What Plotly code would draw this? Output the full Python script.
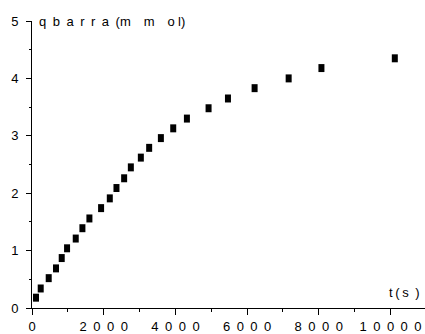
import plotly.graph_objects as go

t_s = [112, 243, 466, 670, 829, 978, 1220, 1406, 1601, 1927, 2170, 2356, 2570, 2757,
       3036, 3268, 3595, 3939, 4321, 4925, 5466, 6209, 7159, 8073, 10120]
q_barra = [0.18, 0.34, 0.52, 0.69, 0.87, 1.04, 1.21, 1.39, 1.56, 1.74, 1.91, 2.09, 2.26, 2.45,
           2.62, 2.79, 2.96, 3.13, 3.30, 3.48, 3.65, 3.83, 4.00, 4.18, 4.35]

x_tickvals = [0, 2000, 4000, 6000, 8000, 10000]
x_ticktext = ["0", "2\u20020\u20020\u20020", "4\u20020\u20020\u20020", "6\u20020\u20020\u20020",
              "8\u20020\u20020\u20020", "1\u20020\u20020\u20020\u20020"]
y_tickvals = [0, 1, 2, 3, 4, 5]
y_ticktext = ["0", "1", "2", "3", "4", "5"]

y_title = "q\u2002b\u2002a\u2002r\u2002r\u2002a\u2002(m\u2003m\u2003o\u2005l)"
x_title = "t\u2009(\u2009s\u2002)"

FONT = "Liberation Sans, Arial, sans-serif"

fig = go.Figure()
fig.add_trace(go.Scatter(
    x=t_s, y=q_barra, mode="markers",
    marker=dict(symbol="line-ns", size=5.7, color="black",
                line=dict(color="black", width=6)),
    showlegend=False, cliponaxis=False,
))

fig.update_layout(
    width=425, height=334,
    margin=dict(l=32, r=0, t=21, b=26),
    paper_bgcolor="white", plot_bgcolor="white",
    font=dict(family=FONT, size=13, color="black"),
    xaxis=dict(
        range=[0, 10962], showgrid=False, zeroline=False,
        showline=True, linecolor="black", linewidth=1,
        ticks="outside", ticklen=6, tickwidth=1, tickcolor="black",
        tickmode="array", tickvals=x_tickvals, ticktext=x_ticktext,
        minor=dict(ticks="outside", ticklen=3, tickwidth=1, tickcolor="black", dtick=1000),
        tickfont=dict(size=13),
    ),
    yaxis=dict(
        range=[0, 5], showgrid=False, zeroline=False,
        showline=True, linecolor="black", linewidth=1,
        ticks="outside", ticklen=5, tickwidth=1, tickcolor="black",
        tickmode="array", tickvals=y_tickvals, ticktext=y_ticktext,
        minor=dict(ticks="outside", ticklen=2.5, tickwidth=1, tickcolor="black", dtick=0.5),
        tickfont=dict(size=13), ticklabelstandoff=5,
    ),
    annotations=[
        dict(text=y_title, xref="paper", yref="paper", x=0.012, y=1.0,
             xanchor="left", yanchor="middle", showarrow=False,
             font=dict(size=13, family=FONT)),
        dict(text=x_title, xref="paper", yref="paper", x=0.99, y=0.053,
             xanchor="right", yanchor="middle", showarrow=False,
             font=dict(size=13, family=FONT)),
    ],
)

fig.write_html("out.html")
